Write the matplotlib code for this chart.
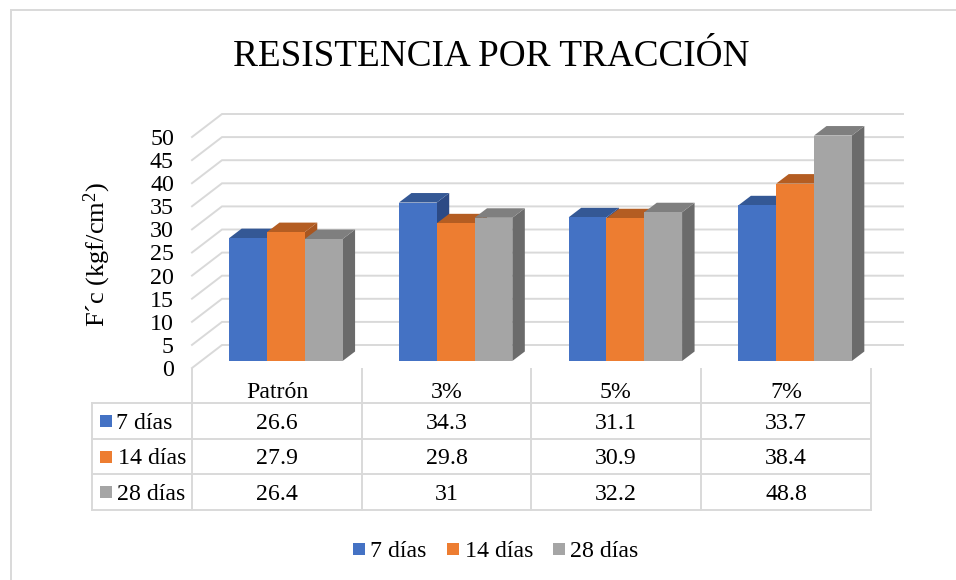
import matplotlib
matplotlib.use("Agg")
import matplotlib.pyplot as plt
from matplotlib.patches import Polygon, Rectangle

plt.rcParams['font.family'] = ['Liberation Serif', 'DejaVu Serif']
plt.rcParams['mathtext.fontset'] = 'custom'
plt.rcParams['mathtext.rm'] = 'Liberation Serif'
plt.rcParams['mathtext.default'] = 'rm'

# data
categories = ['Patrón', '3%', '5%', '7%']
series_names = ['7 días', '14 días', '28 días']
dias_7 = [26.6, 34.3, 31.1, 33.7]
dias_14 = [27.9, 29.8, 30.9, 38.4]
dias_28 = [26.4, 31, 32.2, 48.8]
table_labels = [['26.6', '34.3', '31.1', '33.7'],
                ['27.9', '29.8', '30.9', '38.4'],
                ['26.4', '31', '32.2', '48.8']]
y_ticks = [0, 5, 10, 15, 20, 25, 30, 35, 40, 45, 50]

front_cols = ['#4472C4', '#ED7D31', '#A5A5A5']
top_cols = ['#345895', '#B45D22', '#7F7F7F']
side_cols = ['#2C4A85', '#A85620', '#6B6B6B']
line_col = '#D9D9D9'

fig = plt.figure(figsize=(9.56, 5.8), dpi=100)

# page axes in pixels, used for the table, legend and frame
page = fig.add_axes([0, 0, 1, 1])
page.set_xlim(0, 956)
page.set_ylim(580, 0)
page.axis('off')

# chart axes: front plane of the bars
PX_X = 169.75
PX_Y = 4.62
left, base = 201, 361
ax = fig.add_axes([left / 956, (580 - base) / 580, 4 * PX_X / 956, 50 * PX_Y / 580])
ax.set_xlim(-0.5, 3.5)
ax.set_ylim(0, 50)
ax.axis('off')
ax.patch.set_alpha(0)

def px_x(px):
    return -0.5 + (px - left) / PX_X

# walls
front_off = -7 / PX_Y
back_off = 16 / PX_Y
for v in y_ticks:
    ax.plot([px_x(192), px_x(222), px_x(903)],
            [v + front_off, v + back_off, v + back_off],
            color=line_col, lw=1.4, clip_on=False, zorder=1, solid_joinstyle='miter')
    ax.text(px_x(174), v + front_off, str(v), ha='right', va='center_baseline',
            fontsize=17.3, color='black', clip_on=False)

# bars with fake depth
w = 37.8 / PX_X
dx = 12.5 / PX_X
dy = 9.5 / PX_Y
for j, vals in enumerate([dias_7, dias_14, dias_28]):
    z = 3 + j
    offs = [i + (j - 1) * w for i in range(len(categories))]
    rects = ax.bar(offs, vals, width=w, color=front_cols[j], zorder=z + 0.5, clip_on=False)
    for r, v in zip(rects, vals):
        x0 = r.get_x()
        x1 = x0 + w
        ax.add_patch(Polygon([(x1, 0), (x1 + dx, dy), (x1 + dx, v + dy), (x1, v)],
                             closed=True, fc=side_cols[j], ec='none', zorder=z, clip_on=False))
        ax.add_patch(Polygon([(x0, v), (x0 + dx, v + dy), (x1 + dx, v + dy), (x1, v)],
                             closed=True, fc=top_cols[j], ec='none', zorder=z, clip_on=False))

# frame (only top and left edges show in the picture)
page.plot([11, 11, 956], [580, 10, 10], color=line_col, lw=1.4, solid_joinstyle='miter')

# title and y label
page.text(491, 66, 'RESISTENCIA POR TRACCIÓN', ha='center', va='baseline', fontsize=26.8, color='black')
page.text(97, 255, 'F´c (kgf/cm$^{2}$)', rotation=90, ha='center', va='center', fontsize=19, color='black')

# data table
col_x = [192, 362, 531, 701, 871]
row_y = [403, 439, 474, 510]
for x in col_x:
    page.plot([x, x], [369, 510], color=line_col, lw=1.4)
page.plot([92, 92], [403, 510], color=line_col, lw=1.4)
for y in row_y:
    page.plot([92, 871], [y, y], color=line_col, lw=1.4)

for i, c in enumerate(categories):
    page.text((col_x[i] + col_x[i + 1]) / 2, 390, c, ha='center', va='center_baseline', fontsize=17.2)

name_x = [116, 118, 117]
for r, name in enumerate(series_names):
    yc = (row_y[r] + row_y[r + 1]) / 2
    page.add_patch(Rectangle((100, yc - 6), 12, 12, fc=front_cols[r], ec='none'))
    page.text(name_x[r], yc, name, ha='left', va='center_baseline', fontsize=17.2)
    for i in range(len(categories)):
        page.text((col_x[i] + col_x[i + 1]) / 2, yc, table_labels[r][i],
                  ha='center', va='center_baseline', fontsize=17.2)

# legend
sq_x = [353, 447, 553]
txt_x = [370, 465, 570]
for r, name in enumerate(series_names):
    page.add_patch(Rectangle((sq_x[r], 543), 12, 12, fc=front_cols[r], ec='none'))
    page.text(txt_x[r], 549, name, ha='left', va='center_baseline', fontsize=17.2)

fig.savefig('out.png', dpi=100)
